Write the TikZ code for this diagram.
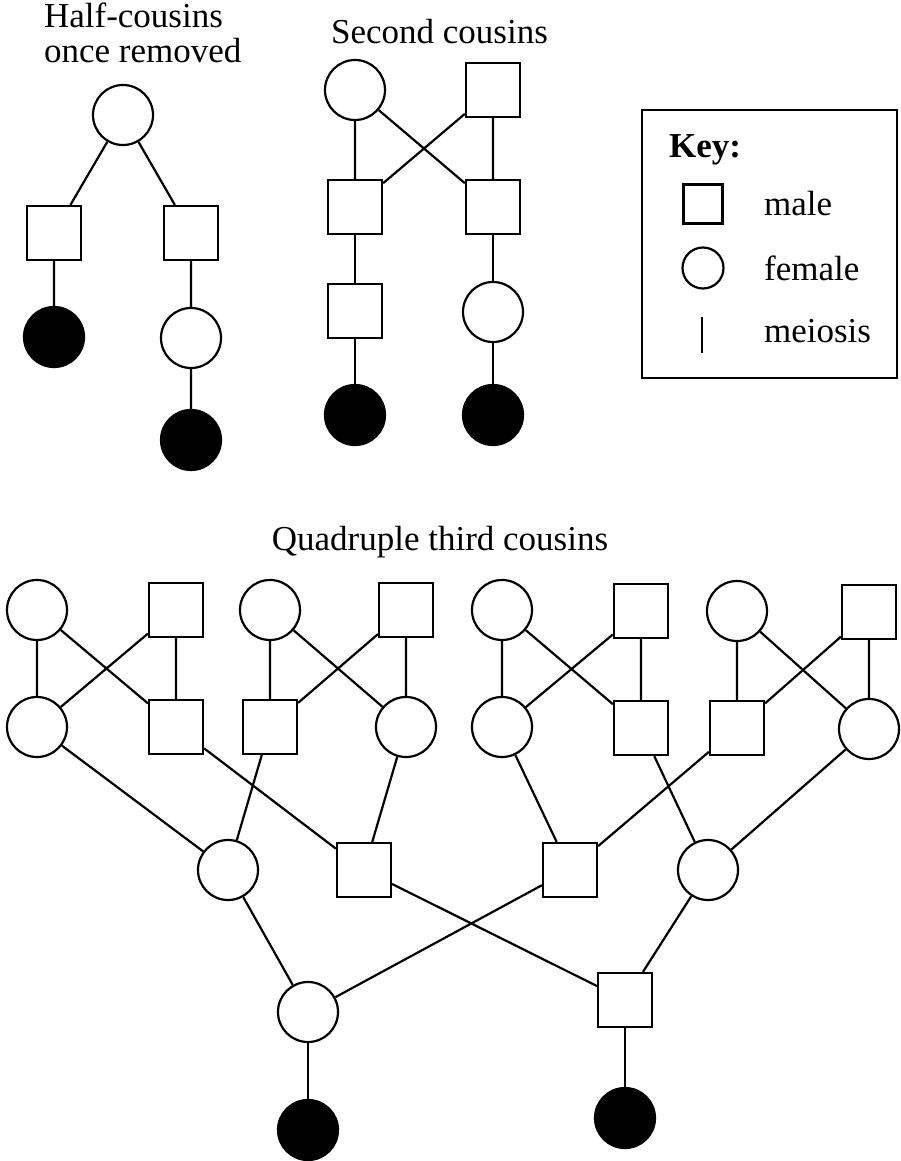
\documentclass[tikz,border=0pt]{standalone}
\usepackage{fontspec}
\setmainfont{Liberation Serif}
\usepackage{tikz}

\begin{document}
\begin{tikzpicture}[x=1pt, y=-1pt, line width=2.2pt,
  female/.style={circle, draw, minimum size=60pt, inner sep=0pt},
  male/.style={rectangle, draw, minimum size=54pt, inner sep=0pt},
  affected/.style={female, fill=black},
  label/.style={inner sep=0pt, anchor=base west, font=\fontsize{35pt}{35pt}\selectfont}]
\useasboundingbox (0,0) rectangle (900,1161);

% half-cousins once removed
\node[label] (t1) at (43,28) {Half-cousins};
\node[label] (t2) at (43,63) {once removed};
\node[female]   (h0) at (123,115) {};
\node[male]     (h1) at ( 54,233) {};
\node[male]     (h2) at (191,233) {};
\node[affected] (h3) at ( 54,337) {};
\node[female]   (h4) at (191,338) {};
\node[affected] (h5) at (191,440) {};
\draw (h0) -- (h1) (h0) -- (h2) (h1) -- (h3) (h2) -- (h4) (h4) -- (h5);

% second cousins
\node[label] (t3) at (330,44) {Second cousins};
\node[female]   (s1) at (355, 90) {};
\node[male]     (s2) at (493, 90) {};
\node[male]     (s3) at (355,207) {};
\node[male]     (s4) at (493,207) {};
\node[male]     (s5) at (355,311) {};
\node[female]   (s6) at (493,312) {};
\node[affected] (s7) at (355,415) {};
\node[affected] (s8) at (493,415) {};
\draw (s1) -- (s3) (s1) -- (s4) (s2) -- (s3) (s2) -- (s4); % the crossing
\draw (s3) -- (s5) (s4) -- (s6) (s5) -- (s7) (s6) -- (s8);

% key box
\draw (642,110) rectangle (897,378);
\node[label, font=\fontsize{35pt}{35pt}\selectfont\bfseries] (kt) at (668,158) {Key:};
\node[male, minimum size=39pt]   (km) at (703,204) {};
\node[female, minimum size=41pt] (kf) at (703,268) {};
\coordinate (kb1) at (702,317);
\coordinate (kb2) at (702,353);
\draw (kb1) -- (kb2);
\node[label] (kl1) at (763,215) {male};
\node[label] (kl2) at (763,280) {female};
\node[label] (kl3) at (763,342) {meiosis};

% quadruple third cousins
\node[label, anchor=base] (t4) at (440,550) {Quadruple third cousins};
% great-grandparents, four couples
\node[female] (a1) at ( 37,610) {};
\node[male]   (b1) at (176,610) {};
\node[female] (c1) at (270,610) {};
\node[male]   (d1) at (406,610) {};
\node[female] (m1) at (502,610) {};
\node[male]   (n1) at (641,611) {};
\node[female] (o1) at (737,611) {};
\node[male]   (p1) at (869,612) {};
% grandparents
\node[female] (a2) at ( 37,727) {};
\node[male]   (b2) at (176,727) {};
\node[male]   (c2) at (270,727) {};
\node[female] (d2) at (406,727) {};
\node[female] (m2) at (502,727) {};
\node[male]   (n2) at (641,728) {};
\node[male]   (o2) at (737,728) {};
\node[female] (p2) at (869,729) {};
% parents
\node[female] (e) at (228,870) {};
\node[male]   (f) at (364,870) {};
\node[male]   (g) at (570,870) {};
\node[female] (h) at (708,870) {};
\node[female] (i) at (308,1012) {};
\node[male]   (j) at (625,1000) {};
\node[affected] (k) at (308,1130) {};
\node[affected] (l) at (625,1118) {};

\draw (a1) -- (a2) (a1) -- (b2) (b1) -- (a2) (b1) -- (b2);
\draw (c1) -- (c2) (c1) -- (d2) (d1) -- (c2) (d1) -- (d2);
\draw (m1) -- (m2) (m1) -- (n2) (n1) -- (m2) (n1) -- (n2);
\draw (o1) -- (o2) (o1) -- (p2) (p1) -- (o2) (p1) -- (p2);
\draw (a2) -- (e) (c2) -- (e) (b2) -- (f) (d2) -- (f);
\draw (m2) -- (g) (o2) -- (g) (n2) -- (h) (p2) -- (h);
\draw (e) -- (i) (g) -- (i) (f) -- (j) (h) -- (j);
\draw (i) -- (k) (j) -- (l);
\end{tikzpicture}
\end{document}
